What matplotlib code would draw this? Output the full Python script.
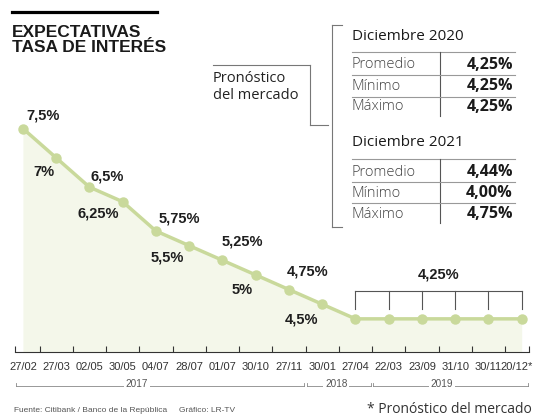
import numpy as np
import matplotlib
matplotlib.use("Agg")
import matplotlib.pyplot as plt
from matplotlib.lines import Line2D
from matplotlib.transforms import offset_copy

# ---- data ----
dates = ["27/02", "27/03", "02/05", "30/05", "04/07", "28/07", "01/07", "30/10",
         "27/11", "30/01", "27/04", "22/03", "23/09", "31/10", "30/11", "20/12*"]
rates = [7.5, 7, 6.5, 6.25, 5.75, 5.5, 5.25, 5, 4.75, 4.5,
         4.25, 4.25, 4.25, 4.25, 4.25, 4.25]
n_forecast = 6
years = ["2017", "2018", "2019"]
year_counts = [9, 2, 5]

table_titles = ["Diciembre 2020", "Diciembre 2021"]
stat_names = ["Promedio", "Mínimo", "Máximo"]
dec_2020 = [4.25, 4.25, 4.25]
dec_2021 = [4.44, 4.00, 4.75]

# ---- style ----
GREEN = "#c9d99b"
FILL = "#f4f7ea"
NARROW = ["Liberation Sans", "DejaVu Sans"]
SANS = ["Open Sans", "DejaVu Sans"]

W, H = 534, 419
fig = plt.figure(figsize=(W / 100, H / 100), dpi=100)


def fx(x):
    return x / W


def fy(y):
    return 1 - y / H


def seg(x0, y0, x1, y1, color="#777777", lw=0.8):
    fig.add_artist(Line2D([fx(x0), fx(x1)], [fy(y0), fy(y1)],
                          transform=fig.transFigure, color=color, lw=lw))


def pct(v, nd=None):
    if nd is None:
        s = f"{v:g}"
    else:
        s = f"{v:.{nd}f}"
    return s.replace(".", ",") + "%"


# ---- chart ----
ax = fig.add_axes([fx(15), fy(351.7), (529 - 15) / W, (351.7 - 100) / H])
x = np.arange(len(dates))
y0, y1 = 3.689, 7.987
ax.fill_between(x, rates, y0, color=FILL, lw=0)
ax.plot(x, rates, color=GREEN, lw=2.5, marker="o", ms=6.5, zorder=3)
ax.set_xlim(-0.238, 15.22)
ax.set_ylim(y0, y1)
ax.set_facecolor("none")

for s in ["top", "left", "right"]:
    ax.spines[s].set_visible(False)
ax.spines["bottom"].set_color("#333333")
ax.spines["bottom"].set_linewidth(0.8)
ax.set_yticks([])

ax.set_xticks(x)
ax.set_xticklabels(dates, family=NARROW, fontsize=8, color="#333333")
ax.tick_params(axis="x", which="major", length=0, pad=7.5)
minor = [-0.238] + list(x[:-1] + 0.5) + [15.22]
ax.set_xticks(minor, minor=True)
ax.tick_params(axis="x", which="minor", direction="in", length=4,
               width=0.8, color="#333333")
# last label sits against the right edge
last = ax.get_xticklabels()[-1]
last.set_transform(offset_copy(last.get_transform(), fig=fig, x=-5, units="dots"))

# value labels (pixel offsets, y up)
n_hist = len(rates) - n_forecast
offsets = [(20, 13), (-12, -14), (18, 11), (-24, -12), (23, 13),
           (-22, -12), (20, 19), (-14, -15), (19, 18), (-21, -15)]
for i in range(n_hist):
    ax.annotate(pct(rates[i]), (x[i], rates[i]), xytext=offsets[i],
                textcoords="offset pixels", ha="center", va="center",
                family=NARROW, fontweight="bold", fontsize=10.5, color="#1e1e1e")

# bracket over the forecast points
fc = x[n_hist:]
top = rates[-1] + 0.48
bot = rates[-1] + 0.16
ax.plot([fc[0], fc[-1]], [top, top], color="#555555", lw=0.8)
for xi in fc:
    ax.plot([xi, xi], [bot, top], color="#555555", lw=0.8)
ax.annotate(pct(rates[-1]), ((fc[0] + fc[-1]) / 2, top), xytext=(0, 16),
            textcoords="offset pixels", ha="center", va="center",
            family=NARROW, fontweight="bold", fontsize=10.5, color="#1e1e1e")

# year row under the dates
tr = ax.get_xaxis_transform()
edges = np.cumsum([0] + year_counts) - 0.5
edges[0] = -0.238
edges[-1] = 15.22
year_text_x = [3.43, 9.42, 12.6]
yl = -0.135
for k, yr in enumerate(years):
    a, b = edges[k] + 0.04, edges[k + 1] - 0.04
    ax.plot([a, b], [yl, yl], transform=tr, clip_on=False, color="#888888", lw=0.6)
    ax.plot([a, a], [yl, yl + 0.01], transform=tr, clip_on=False, color="#888888", lw=0.6)
    ax.plot([b, b], [yl, yl + 0.01], transform=tr, clip_on=False, color="#888888", lw=0.6)
    ax.text(year_text_x[k], yl + 0.005, yr, transform=tr, ha="center", va="center",
            family=NARROW, fontsize=7.2, color="#555555",
            bbox=dict(facecolor="white", edgecolor="none", pad=1.5))

# ---- title ----
seg(12, 12, 157, 12, color="black", lw=2.3)
fig.text(fx(12), fy(25), "EXPECTATIVAS\nTASA DE INTERÉS", ha="left", va="top",
         family=NARROW, fontweight="bold", fontsize=12.5, color="#1a1a1a",
         linespacing=1.02)

# ---- forecast table ----
fig.text(fx(213), fy(87), "Pronóstico\ndel mercado", ha="left", va="center",
         family=SANS, fontsize=10.5, color="#222222", linespacing=1.15)
seg(213, 65, 310, 65)
seg(310, 65, 310, 125)
seg(310, 125, 328, 125)
seg(332, 25, 332, 227)
seg(332, 25, 342, 25)
seg(332, 227, 342, 227)

blocks = [(36, dec_2020), (143, dec_2021)]
for (ty, vals), title in zip(blocks, table_titles):
    fig.text(fx(352), fy(ty), title, ha="left", va="center", family=SANS,
             fontsize=11, color="#1a1a1a")
    line_y = ty + 16
    seg(352, line_y, 515, line_y, color="#999999")
    seg(440, line_y, 440, line_y + 64, color="#555555")
    for r, (name, v) in enumerate(zip(stat_names, vals)):
        ry = line_y + 13 + r * 21
        fig.text(fx(352), fy(ry), name, ha="left", va="center", family=SANS,
                 fontweight="light", fontsize=10.5, color="#444444")
        fig.text(fx(513), fy(ry), pct(v, 2), ha="right", va="center", family=SANS,
                 fontweight="bold", fontsize=11.5, color="#1a1a1a")
        if r < 2:
            seg(352, ry + 10.5, 515, ry + 10.5, color="#999999")

# ---- footer ----
fig.text(fx(14), fy(410), "Fuente: Citibank / Banco de la República     Gráfico: LR-TV",
         ha="left", va="center", family=NARROW, fontsize=6, color="#555555")
fig.text(fx(532), fy(409), "* Pronóstico del mercado", ha="right", va="center",
         family=SANS, fontsize=10, color="#333333")

fig.savefig("out.png", dpi=100)
